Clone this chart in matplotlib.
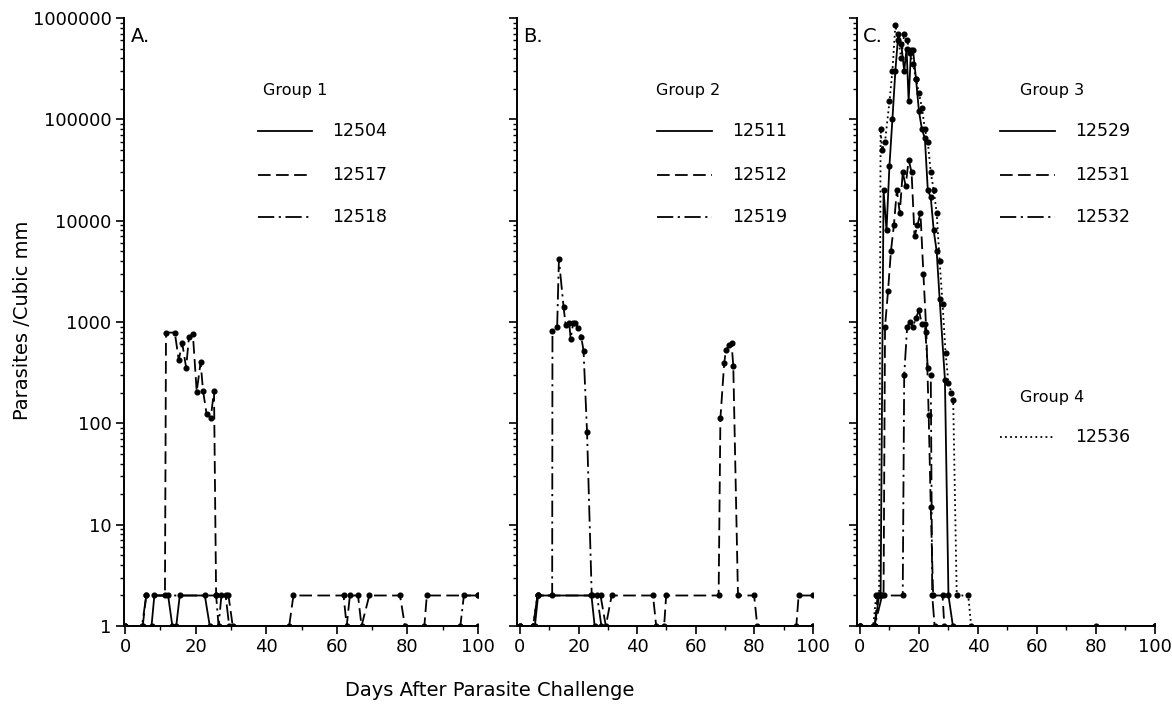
import matplotlib
matplotlib.use('Agg')
import matplotlib.pyplot as plt
from matplotlib.lines import Line2D
from matplotlib.ticker import LogLocator, FixedLocator, FixedFormatter, NullFormatter, MultipleLocator

W, H = 1172, 706  # output size in pixels

# ---- Panel A, Group 1 (days after challenge, parasites / cubic mm) ----
A_12504_DAYS = [0, 7.5, 8.3, 12.2, 13.4, 14.5, 15.5, 22.6, 24, 100]
A_12504_VALS = [1, 1, 2, 2, 1, 1, 2, 2, 1, 1]
A_12517_DAYS = [0, 5, 6, 11.3, 11.6, 14.1, 15.2, 16.2, 17.3, 18.1, 19.2, 20.3, 21.4, 22.1,
                23.1, 24.3, 25.2, 25.8, 29.3, 30.5, 46.5, 47.7, 61.9, 62.8, 63.7, 66, 67,
                69.2, 77.9, 79.3, 84.8, 85.5, 100]
A_12517_VALS = [1, 1, 2, 2, 786, 786, 423, 617, 355, 708, 770, 206, 400, 210,
                123, 114, 209, 2, 2, 1, 1, 2, 2, 1, 2, 2, 1,
                2, 2, 1, 1, 2, 2]
A_12518_DAYS = [0, 4.8, 6, 25.8, 26.5, 27.3, 28.5, 29.5, 95, 96, 100]
A_12518_VALS = [1, 1, 2, 2, 1, 2, 2, 1, 1, 2, 2]

# ---- Panel B, Group 2 ----
B_12511_DAYS = [0, 5.1, 6.2, 24.4, 25.5, 100]
B_12511_VALS = [1, 1, 2, 2, 1, 1]
B_12512_DAYS = [0, 4.5, 6, 27.5, 29.3, 31.3, 45.4, 46.5, 49.2, 49.9, 67.8, 68.4, 69.7, 70.3,
                71.4, 72.2, 72.8, 74.4, 79.9, 81, 94.3, 95.1, 100]
B_12512_VALS = [1, 1, 2, 2, 1, 2, 2, 1, 1, 2, 2, 112, 392, 530,
                594, 618, 369, 2, 2, 1, 1, 2, 2]
B_12519_DAYS = [0, 4.5, 6, 11, 11.1, 12.7, 13.3, 14.9, 15.6, 16.8, 17.3, 18.2, 18.9, 19.8,
                20.9, 21.7, 22.9, 24.5, 26.3, 27.8, 100]
B_12519_VALS = [1, 1, 2, 2, 817, 895, 4170, 1400, 935, 986, 686, 986, 986, 865,
                718, 522, 82, 2, 2, 1, 1]

# ---- Panel C, Groups 3 and 4 ----
C_12529_DAYS = [0, 5, 6.5, 7, 8, 9, 10, 11, 12, 13, 14, 15, 15.8, 16.5, 17.3, 18, 19, 20,
                21, 22, 23, 24, 25, 26, 27, 28.8, 30, 31.5, 100]
C_12529_VALS = [1, 1, 2, 2, 20000, 8000, 35000, 100000, 300000, 700000, 550000, 300000,
                500000, 150000, 480000, 480000, 250000, 120000, 80000, 65000, 20000, 17000,
                8000, 5000, 1700, 270, 2, 1, 1]
C_12531_DAYS = [0, 5, 6, 8, 8.5, 9.5, 10.5, 11.5, 12.5, 13.5, 14.5, 15.5, 16.5, 17.5, 18.5,
                19.5, 20.5, 21.5, 22.5, 23.3, 24, 24.8, 28, 28.6, 80, 100]
C_12531_VALS = [1, 1, 2, 2, 900, 2000, 5000, 9000, 20000, 12000, 30000, 22000, 40000, 30000,
                7000, 9000, 12000, 3000, 800, 120, 15, 2, 2, 1, 1, 1]
C_12532_DAYS = [0, 5, 7.5, 14.5, 15, 16, 17, 18, 19, 20, 21, 22, 23, 24, 24.5, 25.3, 100]
C_12532_VALS = [1, 1, 2, 2, 300, 900, 1000, 900, 1100, 1300, 950, 950, 350, 300, 2, 1, 1]
C_12536_DAYS = [0, 4.5, 5.5, 6.5, 7, 7.5, 8.5, 10, 11, 12, 13, 14, 15, 16, 17, 18, 19, 20,
                21, 22, 23, 24, 25, 26, 27, 28, 29, 30, 31, 31.6, 32.8, 36.7, 37.7, 100]
C_12536_VALS = [1, 1, 2, 2, 80000, 50000, 60000, 150000, 300000, 850000, 600000, 400000,
                700000, 600000, 450000, 350000, 250000, 180000, 130000, 80000, 60000, 30000,
                20000, 12000, 4000, 1500, 500, 250, 200, 170, 2, 2, 1, 1]

Y_TICKS = [1, 10, 100, 1000, 10000, 100000, 1000000]
Y_TICK_LABELS = ['1', '10', '100', '1000', '10000', '100000', '1000000']
X_TICKS = [0, 20, 40, 60, 80, 100]

LS = {
    'solid': '-',
    'dashed': (0, (7, 3)),
    'dashdot': (0, (9, 2.5, 1.2, 2.5)),
    'dotted': (0, (1, 1.8)),
}
plt.rcParams['font.family'] = 'DejaVu Sans'


def fx(x):
    return x / W


def fy(y):
    return 1 - y / H


def draw(ax, days, vals, style):
    ax.plot(days, vals, color='black', lw=1.3, linestyle=LS[style],
            marker='o', ms=3.4, mfc='black', mec='black')


def setup(ax, show_labels):
    ax.set_yscale('log')
    ax.set_ylim(1, 1000000)
    ax.spines['top'].set_visible(False)
    ax.spines['right'].set_visible(False)
    for s in ('left', 'bottom'):
        ax.spines[s].set_linewidth(1.4)
    ax.yaxis.set_major_locator(FixedLocator(Y_TICKS))
    ax.yaxis.set_minor_locator(LogLocator(base=10, subs=range(2, 10), numticks=20))
    ax.yaxis.set_minor_formatter(NullFormatter())
    if show_labels:
        ax.yaxis.set_major_formatter(FixedFormatter(Y_TICK_LABELS))
    else:
        ax.yaxis.set_major_formatter(NullFormatter())
    ax.xaxis.set_major_locator(FixedLocator(X_TICKS))
    ax.xaxis.set_minor_locator(MultipleLocator(10))
    ax.tick_params(axis='both', which='major', length=6, width=1.2, labelsize=13, pad=3)
    ax.tick_params(axis='both', which='minor', length=3, width=1.0)


def legend_entry(fig, x0, x1, y, style, label):
    fig.add_artist(Line2D([fx(x0), fx(x1)], [fy(y), fy(y)], transform=fig.transFigure,
                          color='black', lw=1.3, linestyle=LS[style]))
    fig.text(fx(x1 + 20), fy(y), label, fontsize=12.5, va='center', ha='left')


fig = plt.figure(figsize=(W / 100, H / 100), dpi=100)
top, bottom = 18, 626
axA = fig.add_axes([fx(124), fy(bottom), fx(478 - 124), (bottom - top) / H])
axB = fig.add_axes([fx(517), fy(bottom), fx(813 - 517), (bottom - top) / H])
axC = fig.add_axes([fx(857), fy(bottom), fx(1155 - 857), (bottom - top) / H])

draw(axA, A_12504_DAYS, A_12504_VALS, 'solid')
draw(axA, A_12517_DAYS, A_12517_VALS, 'dashed')
draw(axA, A_12518_DAYS, A_12518_VALS, 'dashdot')

draw(axB, B_12511_DAYS, B_12511_VALS, 'solid')
draw(axB, B_12512_DAYS, B_12512_VALS, 'dashed')
draw(axB, B_12519_DAYS, B_12519_VALS, 'dashdot')

draw(axC, C_12529_DAYS, C_12529_VALS, 'solid')
draw(axC, C_12531_DAYS, C_12531_VALS, 'dashed')
draw(axC, C_12532_DAYS, C_12532_VALS, 'dashdot')
draw(axC, C_12536_DAYS, C_12536_VALS, 'dotted')

setup(axA, True)
setup(axB, False)
setup(axC, False)
axA.set_xlim(-0.3, 100)
axB.set_xlim(-1, 100)
axC.set_xlim(-1, 100)

for ax, letter in ((axA, 'A.'), (axB, 'B.'), (axC, 'C.')):
    ax.text(0.02, 0.985, letter, transform=ax.transAxes, fontsize=14, va='top', ha='left')

# legends drawn by hand, as in the original figure
fig.text(fx(295), fy(90), 'Group 1', fontsize=11.5, ha='center', va='center')
legend_entry(fig, 258, 312, 131, 'solid', '12504')
legend_entry(fig, 258, 312, 175, 'dashed', '12517')
legend_entry(fig, 258, 312, 217, 'dashdot', '12518')

fig.text(fx(688), fy(90), 'Group 2', fontsize=11.5, ha='center', va='center')
legend_entry(fig, 657, 712, 131, 'solid', '12511')
legend_entry(fig, 657, 712, 175, 'dashed', '12512')
legend_entry(fig, 657, 712, 217, 'dashdot', '12519')

fig.text(fx(1052), fy(90), 'Group 3', fontsize=11.5, ha='center', va='center')
legend_entry(fig, 1000, 1055, 131, 'solid', '12529')
legend_entry(fig, 1000, 1055, 175, 'dashed', '12531')
legend_entry(fig, 1000, 1055, 217, 'dashdot', '12532')
fig.text(fx(1052), fy(398), 'Group 4', fontsize=11.5, ha='center', va='center')
legend_entry(fig, 1000, 1055, 437, 'dotted', '12536')

fig.text(fx(22), fy(320), 'Parasites /Cubic mm', fontsize=14, rotation=90,
         ha='center', va='center')
fig.text(fx(490), fy(690), 'Days After Parasite Challenge', fontsize=14,
         ha='center', va='center')

fig.savefig('out.png', dpi=100)
